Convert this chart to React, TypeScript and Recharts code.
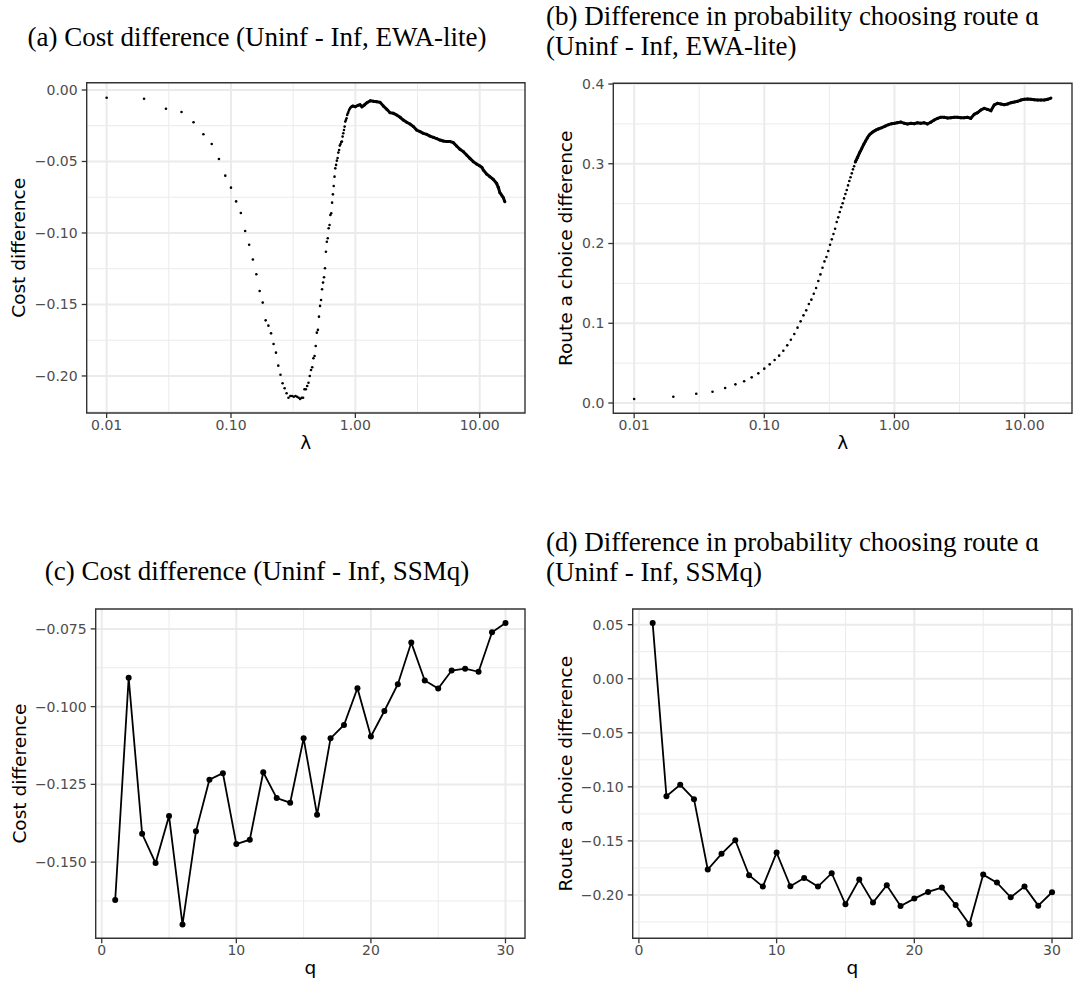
import React from "react";
import {
  ScatterChart,
  Scatter,
  LineChart,
  Line,
  XAxis,
  YAxis,
  CartesianGrid,
  ReferenceArea,
} from "recharts";

// ---------------- DATA ----------------
// Panel (a): cost difference vs lambda (EWA-lite)
const lambdaSparseA = [
  0.01, 0.02, 0.03, 0.04, 0.05, 0.06, 0.07, 0.08, 0.09, 0.1,
  0.11, 0.12, 0.13, 0.14, 0.15, 0.16, 0.17, 0.18, 0.19, 0.2,
  0.21, 0.22, 0.23, 0.24, 0.25, 0.26, 0.27, 0.28, 0.29, 0.3,
  0.31, 0.32, 0.33, 0.34, 0.35, 0.36, 0.37, 0.38, 0.39, 0.4,
  0.41, 0.42, 0.43, 0.44, 0.45, 0.46, 0.47, 0.48, 0.49, 0.5,
  0.51, 0.52, 0.53, 0.54, 0.55, 0.56, 0.57, 0.58, 0.59, 0.6,
  0.61, 0.62, 0.63, 0.64, 0.65, 0.66, 0.67, 0.68, 0.69, 0.7,
  0.71, 0.72, 0.73, 0.74, 0.75, 0.76, 0.77, 0.78, 0.79, 0.8,
  0.81, 0.82, 0.83, 0.84, 0.85, 0.86, 0.87, 0.88, 0.89, 0.9,
  0.91, 0.92, 0.93, 0.94, 0.95,
];
const costSparseA = [
  -0.0054, -0.0061, -0.0131, -0.0154, -0.0226, -0.031, -0.0378, -0.0483, -0.0599, -0.0683,
  -0.0779, -0.086, -0.0986, -0.1082, -0.1186, -0.1289, -0.1406, -0.1487, -0.1611, -0.1648,
  -0.1702, -0.1776, -0.1837, -0.1928, -0.1991, -0.2051, -0.2086, -0.2121, -0.2152, -0.214,
  -0.214, -0.2145, -0.214, -0.2145, -0.2152, -0.2161, -0.2152, -0.2152, -0.2093, -0.2093,
  -0.207, -0.2047, -0.2, -0.1958, -0.1939, -0.1876, -0.186, -0.179, -0.1697, -0.1678,
  -0.1585, -0.151, -0.1469, -0.1394, -0.1347, -0.131, -0.1247, -0.1131, -0.1061, -0.1037,
  -0.0967, -0.0944, -0.0874, -0.0862, -0.0788, -0.073, -0.0671, -0.0606, -0.0548, -0.0524,
  -0.0494, -0.0476, -0.0438, -0.042, -0.0389, -0.0378, -0.0364, -0.0361, -0.0326, -0.0303,
  -0.028, -0.0256, -0.0221, -0.021, -0.0198, -0.0175, -0.0163, -0.0152, -0.014, -0.0133,
  -0.0126, -0.0121, -0.0117, -0.0114, -0.0112,
];
const lambdaDenseA = [
  0.95, 1.0, 1.05, 1.09, 1.13, 1.18, 1.24, 1.32, 1.4, 1.49, 1.58, 1.68, 1.79, 1.9,
  2.02, 2.15, 2.29, 2.43, 2.59, 2.75, 2.93, 3.11, 3.31, 3.52, 3.75, 3.98, 4.24,
  4.51, 4.79, 5.1, 5.42, 5.77, 6.13, 6.52, 6.94, 7.38, 7.85, 8.34, 8.88, 9.44,
  10.04, 10.4, 10.68, 11.35, 12.07, 12.84, 13.66, 14.1, 14.53, 15.0, 15.45, 15.93,
];
const costDenseA = [
  -0.0112, -0.0117, -0.0107, -0.0103, -0.0117, -0.0105, -0.0089, -0.0075, -0.0079, -0.0082,
  -0.0086, -0.0112, -0.0135, -0.0159, -0.0163, -0.0175, -0.0191, -0.021, -0.0226, -0.0238,
  -0.0256, -0.028, -0.0291, -0.0303, -0.031, -0.0322, -0.0331, -0.034, -0.035, -0.0357,
  -0.0361, -0.0361, -0.0368, -0.0392, -0.0415, -0.0431, -0.0455, -0.0478, -0.0501, -0.0517,
  -0.0531, -0.0541, -0.0559, -0.0587, -0.0606, -0.0625, -0.0653, -0.0681, -0.0718, -0.0735,
  -0.0751, -0.0781,
];

// Panel (b): route a choice difference vs lambda (EWA-lite)
const lambdaSparseB = [
  0.01, 0.02, 0.03, 0.04, 0.05, 0.06, 0.07, 0.08, 0.09, 0.1,
  0.11, 0.12, 0.13, 0.14, 0.15, 0.16, 0.17, 0.18, 0.19, 0.2,
  0.21, 0.22, 0.23, 0.24, 0.25, 0.26, 0.27, 0.28, 0.29, 0.3,
  0.31, 0.32, 0.33, 0.34, 0.35, 0.36, 0.37, 0.38, 0.39, 0.4,
  0.41, 0.42, 0.43, 0.44, 0.45, 0.46, 0.47, 0.48, 0.49, 0.5,
  0.51, 0.52, 0.53, 0.54, 0.55,
];
const routeSparseB = [
  0.005, 0.0079, 0.0117, 0.0142, 0.0188, 0.0234, 0.0272, 0.0322, 0.0372, 0.0431,
  0.0485, 0.0539, 0.0594, 0.0656, 0.0723, 0.0794, 0.0865, 0.0945, 0.1024, 0.1099,
  0.1162, 0.1241, 0.1296, 0.1371, 0.1442, 0.153, 0.1613, 0.1697, 0.1776, 0.1831,
  0.1906, 0.1985, 0.2052, 0.2119, 0.2186, 0.227, 0.2328, 0.2395, 0.2454, 0.2504,
  0.2566, 0.2621, 0.2671, 0.2729, 0.2784, 0.283, 0.288, 0.293, 0.2968, 0.3022,
  0.3047, 0.308, 0.3106, 0.3139, 0.316,
];
const lambdaDenseB = [
  0.5, 0.52, 0.54, 0.56, 0.58, 0.6, 0.62, 0.64, 0.66, 0.68, 0.7, 0.72, 0.75, 0.8,
  0.85, 0.9, 0.95, 1.0, 1.05, 1.12, 1.19, 1.26, 1.34, 1.42, 1.5, 1.59, 1.69, 1.79,
  1.9, 2.02, 2.14, 2.27, 2.41, 2.56, 2.71, 2.88, 3.05, 3.24, 3.43, 3.64, 3.86, 4.1,
  4.35, 4.61, 4.89, 5.19, 5.51, 5.84, 6.2, 6.57, 6.97, 7.4, 7.85, 8.33, 8.83, 9.37,
  9.94, 10.54, 11.18, 11.86, 12.58, 13.35, 14.16, 15.02, 15.93,
];
const routeDenseB = [
  0.3022, 0.308, 0.3139, 0.3189, 0.3243, 0.3285, 0.3327, 0.3361, 0.3381, 0.3398, 0.3411,
  0.3423, 0.3436, 0.3453, 0.3473, 0.349, 0.3502, 0.3507, 0.3515, 0.3524, 0.3507, 0.3499,
  0.3507, 0.3503, 0.3515, 0.3507, 0.3515, 0.3499, 0.352, 0.3549, 0.3569, 0.3582, 0.3582,
  0.3574, 0.3578, 0.3582, 0.3582, 0.3578, 0.3578, 0.3582, 0.3569, 0.362, 0.3641, 0.3674,
  0.3695, 0.3682, 0.3666, 0.3737, 0.3758, 0.375, 0.3741, 0.375, 0.3766, 0.3774, 0.3783,
  0.3799, 0.3808, 0.3812, 0.3808, 0.3804, 0.3799, 0.3799, 0.3799, 0.3808, 0.3824,
];

// Panels (c) and (d): SSMq
const qValues = [
  1, 2, 3, 4, 5, 6, 7, 8, 9, 10, 11, 12, 13, 14, 15,
  16, 17, 18, 19, 20, 21, 22, 23, 24, 25, 26, 27, 28, 29, 30,
];
const costSSMq = [
  -0.1622, -0.0907, -0.1409, -0.1503, -0.1352, -0.1701, -0.1401, -0.1235, -0.1214, -0.1442,
  -0.1428, -0.1211, -0.1294, -0.1309, -0.1102, -0.1348, -0.1102, -0.1059, -0.0941, -0.1096,
  -0.1014, -0.0928, -0.0794, -0.0916, -0.0942, -0.0884, -0.0878, -0.0888, -0.0761, -0.0731,
];
const routeSSMq = [
  0.0515, -0.1086, -0.0981, -0.1114, -0.1765, -0.162, -0.1494, -0.1818, -0.1923, -0.1608,
  -0.192, -0.1843, -0.1923, -0.1799, -0.2086, -0.1858, -0.2071, -0.191, -0.2102, -0.2034,
  -0.1972, -0.1932, -0.2093, -0.2272, -0.1812, -0.1886, -0.2022, -0.1923, -0.2099, -0.1975,
];

// Tick / grid values
const lambdaTicks = [0.01, 0.1, 1, 10];
const lambdaMinor = [0.0316, 0.316, 3.16];
const costATicks = [-0.2, -0.15, -0.1, -0.05, 0];
const costAMinor = [-0.225, -0.175, -0.125, -0.075, -0.025];
const routeBTicks = [0, 0.1, 0.2, 0.3, 0.4];
const routeBMinor = [0.05, 0.15, 0.25, 0.35];
const qTicks = [0, 10, 20, 30];
const qMinor = [5, 15, 25];
const costCTicks = [-0.15, -0.125, -0.1, -0.075];
const costCMinor = [-0.1625, -0.1375, -0.1125, -0.0875];
const routeDTicks = [-0.2, -0.15, -0.1, -0.05, 0, 0.05];
const routeDMinor = [-0.225, -0.175, -0.125, -0.075, -0.025, 0.025];

// ---------------- STYLE / LAYOUT ----------------
const SANS = "'DejaVu Sans', 'Liberation Sans', sans-serif";
const SERIF = "'Liberation Serif', 'DejaVu Serif', serif";
const TICK_FILL = "#4D4D4D";
const DARK = "#333333";
const GRID = "#EBEBEB";
const XH = 34;

type Box = { x0: number; y0: number; x1: number; y1: number };
type Cell = { x: number; y: number; w: number; h: number };

const cellA: Cell = { x: 0, y: 0, w: 543, h: 470 };
const cellB: Cell = { x: 543, y: 0, w: 543, h: 470 };
const cellC: Cell = { x: 0, y: 500, w: 543, h: 487 };
const cellD: Cell = { x: 543, y: 500, w: 543, h: 487 };
const plotA: Box = { x0: 86.7, y0: 82.7, x1: 525, y1: 413 };
const plotB: Box = { x0: 613.3, y0: 83.3, x1: 1072, y1: 413.3 };
const plotC: Box = { x0: 95.7, y0: 609, x1: 525, y1: 938.3 };
const plotD: Box = { x0: 632.7, y0: 609, x1: 1072, y1: 938.3 };

const lambdaDomain: [number, number] = [0.006915, 23.13];
const qDomain: [number, number] = [-0.45, 31.45];

const fmt = (d: number) => (v: number) => {
  const s = Math.abs(v).toFixed(d);
  return v < -1e-9 ? "\u2212" + s : s;
};
const fmtLambda = (v: number) => v.toFixed(2);

function geom(cell: Cell, p: Box) {
  return {
    width: cell.w,
    height: cell.h,
    margin: {
      top: p.y0 - cell.y,
      right: cell.x + cell.w - p.x1,
      bottom: cell.y + cell.h - p.y1 - XH,
      left: 0,
    },
    yWidth: p.x0 - cell.x,
  };
}

const tickStyle = { fill: TICK_FILL, fontSize: 14, fontFamily: SANS };
const tickLineStyle = { stroke: DARK, strokeWidth: 1.3 };

const SmallDot = (props: any) => {
  const { cx, cy } = props;
  if (cx == null || cy == null) return null;
  return <circle cx={cx} cy={cy} r={1.3} fill="#000" />;
};
const DenseDot = (props: any) => {
  const { cx, cy } = props;
  if (cx == null || cy == null) return null;
  return <circle cx={cx} cy={cy} r={1.5} fill="#000" />;
};

function LambdaPanel(props: {
  cell: Cell;
  plot: Box;
  sparseX: number[];
  sparseY: number[];
  denseX: number[];
  denseY: number[];
  yDomain: [number, number];
  yTicks: number[];
  yMinor: number[];
  yDigits: number;
}) {
  const g = geom(props.cell, props.plot);
  const sparse = props.sparseX.map((x, i) => ({ x, y: props.sparseY[i] }));
  const dense = props.denseX.map((x, i) => ({ x, y: props.denseY[i] }));
  return (
    <div style={{ position: "absolute", left: props.cell.x, top: props.cell.y }}>
      <ScatterChart width={g.width} height={g.height} margin={g.margin}>
        <CartesianGrid
          stroke={GRID}
          strokeWidth={1}
          horizontalValues={props.yMinor}
          verticalValues={lambdaMinor}
        />
        <CartesianGrid
          stroke={GRID}
          strokeWidth={2}
          horizontalValues={props.yTicks}
          verticalValues={lambdaTicks}
        />
        <XAxis
          type="number"
          dataKey="x"
          scale="log"
          domain={lambdaDomain}
          allowDataOverflow
          ticks={lambdaTicks}
          interval={0}
          tickFormatter={fmtLambda}
          height={XH}
          axisLine={false}
          tickLine={tickLineStyle}
          tickSize={5}
          tickMargin={2}
          tick={tickStyle}
        />
        <YAxis
          type="number"
          dataKey="y"
          domain={props.yDomain}
          allowDataOverflow
          ticks={props.yTicks}
          interval={0}
          tickFormatter={fmt(props.yDigits)}
          width={g.yWidth}
          axisLine={false}
          tickLine={tickLineStyle}
          tickSize={5}
          tickMargin={4}
          tick={tickStyle}
        />
        <Scatter data={sparse} fill="#000" shape={SmallDot} isAnimationActive={false} />
        <Scatter
          data={dense}
          fill="#000"
          shape={DenseDot}
          line={{ stroke: "#000", strokeWidth: 3 }}
          isAnimationActive={false}
        />
        <ReferenceArea
          x1={lambdaDomain[0]}
          x2={lambdaDomain[1]}
          y1={props.yDomain[0]}
          y2={props.yDomain[1]}
          fill="none"
          fillOpacity={0}
          stroke={DARK}
          strokeWidth={1.4}
          ifOverflow="visible"
        />
      </ScatterChart>
    </div>
  );
}

function QPanel(props: {
  cell: Cell;
  plot: Box;
  values: number[];
  yDomain: [number, number];
  yTicks: number[];
  yMinor: number[];
  yDigits: number;
}) {
  const g = geom(props.cell, props.plot);
  const data = qValues.map((q, i) => ({ q, v: props.values[i] }));
  return (
    <div style={{ position: "absolute", left: props.cell.x, top: props.cell.y }}>
      <LineChart width={g.width} height={g.height} margin={g.margin} data={data}>
        <CartesianGrid
          stroke={GRID}
          strokeWidth={1}
          horizontalValues={props.yMinor}
          verticalValues={qMinor}
        />
        <CartesianGrid
          stroke={GRID}
          strokeWidth={2}
          horizontalValues={props.yTicks}
          verticalValues={qTicks}
        />
        <XAxis
          type="number"
          dataKey="q"
          domain={qDomain}
          allowDataOverflow
          ticks={qTicks}
          interval={0}
          height={XH}
          axisLine={false}
          tickLine={tickLineStyle}
          tickSize={5}
          tickMargin={2}
          tick={tickStyle}
        />
        <YAxis
          type="number"
          domain={props.yDomain}
          allowDataOverflow
          ticks={props.yTicks}
          interval={0}
          tickFormatter={fmt(props.yDigits)}
          width={g.yWidth}
          axisLine={false}
          tickLine={tickLineStyle}
          tickSize={5}
          tickMargin={4}
          tick={tickStyle}
        />
        <Line
          dataKey="v"
          stroke="#000"
          strokeWidth={1.8}
          dot={{ r: 3, fill: "#000", stroke: "none" }}
          activeDot={false}
          isAnimationActive={false}
        />
        <ReferenceArea
          x1={qDomain[0]}
          x2={qDomain[1]}
          y1={props.yDomain[0]}
          y2={props.yDomain[1]}
          fill="none"
          fillOpacity={0}
          stroke={DARK}
          strokeWidth={1.4}
          ifOverflow="visible"
        />
      </LineChart>
    </div>
  );
}

const titleStyle: React.CSSProperties = { fontFamily: SERIF, fontSize: 27, fill: "#000" };
const axisTitleStyle: React.CSSProperties = { fontFamily: SANS, fontSize: 18.5, fill: "#000" };

function YTitle({ x, p, text }: { x: number; p: Box; text: string }) {
  const cy = (p.y0 + p.y1) / 2;
  return (
    <text transform={`translate(${x},${cy}) rotate(-90)`} textAnchor="middle" style={axisTitleStyle}>
      {text}
    </text>
  );
}
function XTitle({ p, text }: { p: Box; text: string }) {
  return (
    <text x={(p.x0 + p.x1) / 2} y={p.y1 + 36} textAnchor="middle" style={axisTitleStyle}>
      {text}
    </text>
  );
}

export default function App() {
  return (
    <div
      style={{
        position: "absolute",
        left: 0,
        top: 0,
        width: 1086,
        height: 987,
        background: "#fff",
        overflow: "hidden",
      }}
    >
      <LambdaPanel
        cell={cellA}
        plot={plotA}
        sparseX={lambdaSparseA}
        sparseY={costSparseA}
        denseX={lambdaDenseA}
        denseY={costDenseA}
        yDomain={[-0.2259, 0.0051]}
        yTicks={costATicks}
        yMinor={costAMinor}
        yDigits={2}
      />
      <LambdaPanel
        cell={cellB}
        plot={plotB}
        sparseX={lambdaSparseB}
        sparseY={routeSparseB}
        denseX={lambdaDenseB}
        denseY={routeDenseB}
        yDomain={[-0.0129, 0.4009]}
        yTicks={routeBTicks}
        yMinor={routeBMinor}
        yDigits={1}
      />
      <QPanel
        cell={cellC}
        plot={plotC}
        values={costSSMq}
        yDomain={[-0.1745, -0.0686]}
        yTicks={costCTicks}
        yMinor={costCMinor}
        yDigits={3}
      />
      <QPanel
        cell={cellD}
        plot={plotD}
        values={routeSSMq}
        yDomain={[-0.2401, 0.0645]}
        yTicks={routeDTicks}
        yMinor={routeDMinor}
        yDigits={2}
      />
      <svg
        width={1086}
        height={987}
        style={{ position: "absolute", left: 0, top: 0, pointerEvents: "none" }}
      >
        <text x={257} y={46} textAnchor="middle" style={titleStyle}>
          (a) Cost difference (Uninf - Inf, EWA-lite)
        </text>
        <text x={546} y={25} style={titleStyle}>
          (b) Difference in probability choosing route ɑ
        </text>
        <text x={546} y={55} style={titleStyle}>
          (Uninf - Inf, EWA-lite)
        </text>
        <text x={257} y={580} textAnchor="middle" style={titleStyle}>
          (c) Cost difference (Uninf - Inf, SSMq)
        </text>
        <text x={546} y={551} style={titleStyle}>
          (d) Difference in probability choosing route ɑ
        </text>
        <text x={546} y={581} style={titleStyle}>
          (Uninf - Inf, SSMq)
        </text>
        <YTitle x={25} p={plotA} text="Cost difference" />
        <YTitle x={572} p={plotB} text="Route a choice difference" />
        <YTitle x={26} p={plotC} text="Cost difference" />
        <YTitle x={572} p={plotD} text="Route a choice difference" />
        <XTitle p={plotA} text="λ" />
        <XTitle p={plotB} text="λ" />
        <XTitle p={plotC} text="q" />
        <XTitle p={plotD} text="q" />
      </svg>
    </div>
  );
}
